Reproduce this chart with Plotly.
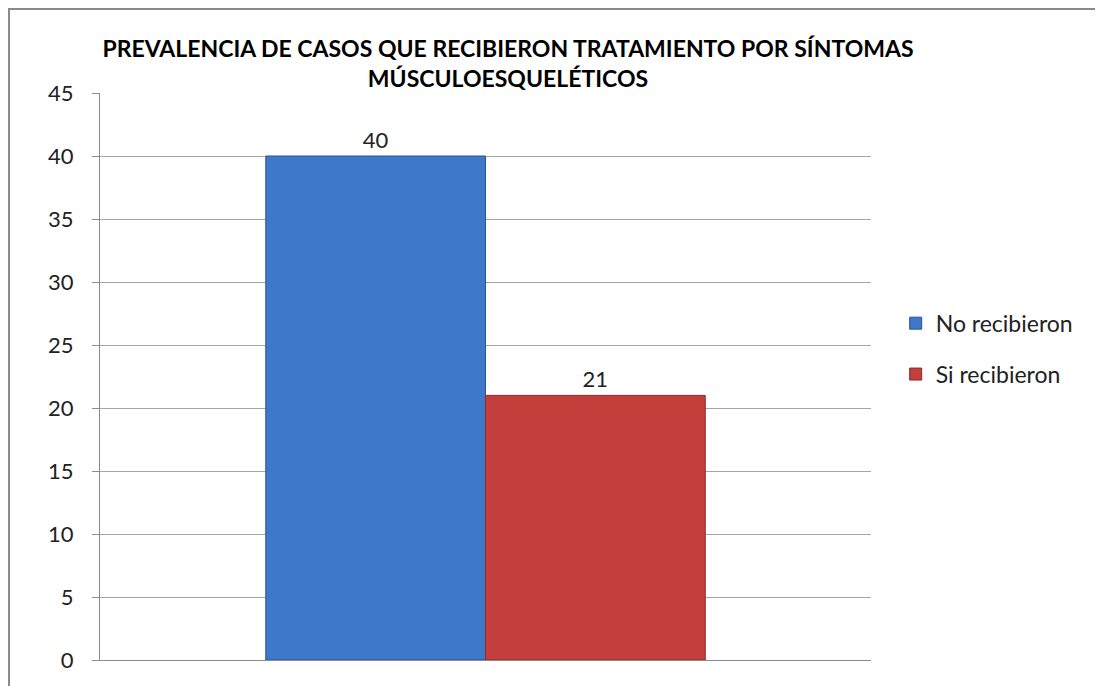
import plotly.graph_objects as go

# Datos del grafico
categoria = [""]
series = ["No recibieron", "Si recibieron"]
valores = [[40], [21]]
colores = ["#3d78ca", "#c43e3c"]
bordes = ["#2c5590", "#8e2a28"]
y_ticks = [0, 5, 10, 15, 20, 25, 30, 35, 40, 45]

titulo = ("<b>PREVALENCIA DE CASOS QUE RECIBIERON TRATAMIENTO POR SÍNTOMAS"
          "<br>MÚSCULOESQUELÉTICOS</b>")

FONT = "Lato, Open Sans, sans-serif"

fig = go.Figure()
for nombre, vals, color, borde in zip(series, valores, colores, bordes):
    fig.add_trace(go.Bar(
        x=categoria,
        y=vals,
        name=nombre,
        legendgroup=nombre,
        marker=dict(color=color, line=dict(color=borde, width=1)),
        text=[str(v) for v in vals],
        textposition="outside",
        textfont=dict(size=22, color="#222222", family=FONT),
        cliponaxis=False,
    ))

fig.update_layout(
    width=1103,
    height=686,
    barmode="group",
    bargap=0.43,
    bargroupgap=0,
    plot_bgcolor="white",
    paper_bgcolor="white",
    margin=dict(l=92, r=240, t=85, b=34),
    title=dict(text=titulo, x=0.4533, xanchor="center", y=0.928, yanchor="top",
               font=dict(size=23, color="#000000", family=FONT)),
    legend=dict(x=1.032, y=0.549, xanchor="left", yanchor="middle",
                font=dict(size=23, color="#222222", family=FONT),
                itemwidth=30, traceorder="grouped", tracegroupgap=18,
                bgcolor="rgba(0,0,0,0)"),
    font=dict(family=FONT),
    showlegend=True,
)

fig.update_yaxes(
    range=[0, 45],
    tickvals=y_ticks,
    showgrid=True,
    gridcolor="#a6a6a6",
    gridwidth=1,
    showline=True,
    linecolor="#8c8c8c",
    linewidth=1,
    ticks="outside",
    ticklen=7,
    tickcolor="#8c8c8c",
    ticklabelstandoff=14,
    tickfont=dict(size=22, color="#222222", family=FONT),
    zeroline=False,
)
fig.update_xaxes(
    showline=True,
    linecolor="#8c8c8c",
    linewidth=1,
    showticklabels=False,
    ticks="",
)

# marco exterior del grafico
fig.add_shape(type="rect", xref="paper", yref="paper",
              x0=-0.118, x1=1.4, y0=-0.2, y1=1.148,
              line=dict(color="#8a8a8a", width=2), fillcolor="rgba(0,0,0,0)",
              layer="below")

fig.write_html("out.html")
